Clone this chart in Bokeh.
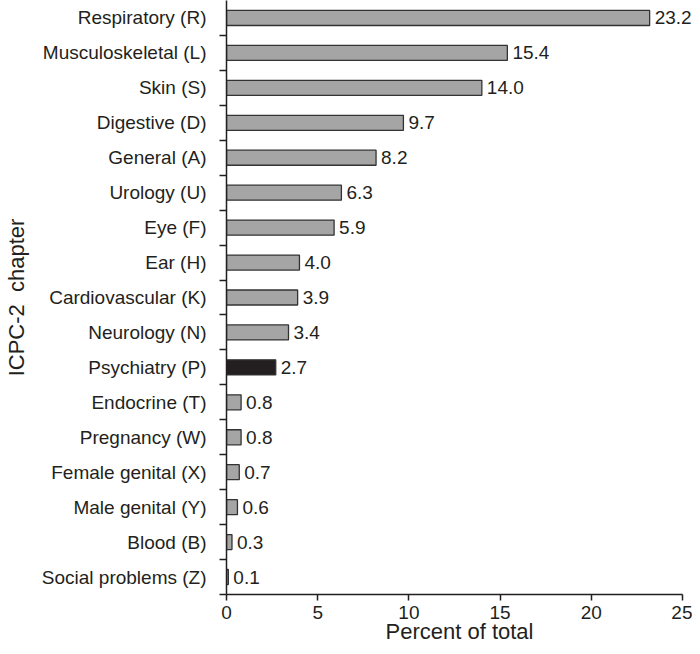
from bokeh.plotting import figure
from bokeh.models import FixedTicker, ColumnDataSource, Range1d, LabelSet
from bokeh.core.properties import value
from bokeh.embed import file_html
from bokeh.resources import INLINE

categories = ["Respiratory (R)", "Musculoskeletal (L)", "Skin (S)", "Digestive (D)",
              "General (A)", "Urology (U)", "Eye (F)", "Ear (H)", "Cardiovascular (K)",
              "Neurology (N)", "Psychiatry (P)", "Endocrine (T)", "Pregnancy (W)",
              "Female genital (X)", "Male genital (Y)", "Blood (B)", "Social problems (Z)"]
percent = [23.2, 15.4, 14.0, 9.7, 8.2, 6.3, 5.9, 4.0, 3.9, 3.4, 2.7, 0.8, 0.8, 0.7, 0.6, 0.3, 0.1]
highlight = "Psychiatry (P)"
x_ticks = [0, 5, 10, 15, 20, 25]

n = len(categories)
ypos = [n - 0.5 - i for i in range(n)]
colors = ["#231f20" if c == highlight else "#a5a5a5" for c in categories]
labels = ["%.1f" % v for v in percent]

src = ColumnDataSource(dict(y=ypos, v=percent, c=colors, lab=labels, cat=categories))

FONT = "Liberation Sans"
TXT = "#231f20"

p = figure(width=692, height=646, output_backend="svg", toolbar_location=None,
           x_range=Range1d(0, 25.55), y_range=Range1d(0, 17),
           min_border_left=218, min_border_right=0, min_border_top=0, min_border_bottom=40)
p.outline_line_color = None
p.grid.visible = False
p.background_fill_color = "white"

p.hbar(y="y", right="v", left=0, height=0.43, fill_color="c", line_color="#333333",
       line_width=1.3, source=src)
vl = LabelSet(x="v", y="y", text="lab", source=src, x_offset=5, text_baseline="middle",
              text_align="left", text_font=value(FONT), text_font_size="19px", text_color=TXT)
p.add_layout(vl)

# x axis
xa = p.xaxis[0]
xa.ticker = FixedTicker(ticks=x_ticks)
xa.bounds = (0, 25)
xa.axis_label = "Percent of total"
xa.axis_label_text_font = FONT
xa.axis_label_text_font_size = "22px"
xa.axis_label_text_font_style = "normal"
xa.axis_label_text_color = TXT
xa.axis_label_standoff = -3
xa.major_label_text_font = FONT
xa.major_label_text_font_size = "19px"
xa.major_label_text_color = TXT
xa.major_label_standoff = 5
xa.major_tick_in = 0
xa.major_tick_out = 6
xa.minor_tick_out = 0
xa.minor_tick_in = 0
xa.axis_line_color = "#231f20"
xa.axis_line_width = 1.5
xa.major_tick_line_color = "#231f20"
xa.major_tick_line_width = 1.5

# y axis
ya = p.yaxis[0]
ya.ticker = FixedTicker(ticks=ypos, minor_ticks=list(range(0, n)))
ya.major_label_overrides = {y: c for y, c in zip(ypos, categories)}
ya.axis_label = "ICPC-2 \u00a0chapter"
ya.axis_label_text_font = FONT
ya.axis_label_text_font_size = "22px"
ya.axis_label_text_font_style = "normal"
ya.axis_label_text_color = TXT
ya.axis_label_standoff = 10
ya.major_label_text_font = FONT
ya.major_label_text_font_size = "19px"
ya.major_label_text_color = TXT
ya.major_label_standoff = 13
ya.major_tick_in = 0
ya.major_tick_out = 0
ya.minor_tick_in = 0
ya.minor_tick_out = 7
ya.minor_tick_line_color = "#231f20"
ya.minor_tick_line_width = 1.5
ya.axis_line_color = "#231f20"
ya.axis_line_width = 1.5

open("out.html", "w").write(file_html(p, INLINE))
